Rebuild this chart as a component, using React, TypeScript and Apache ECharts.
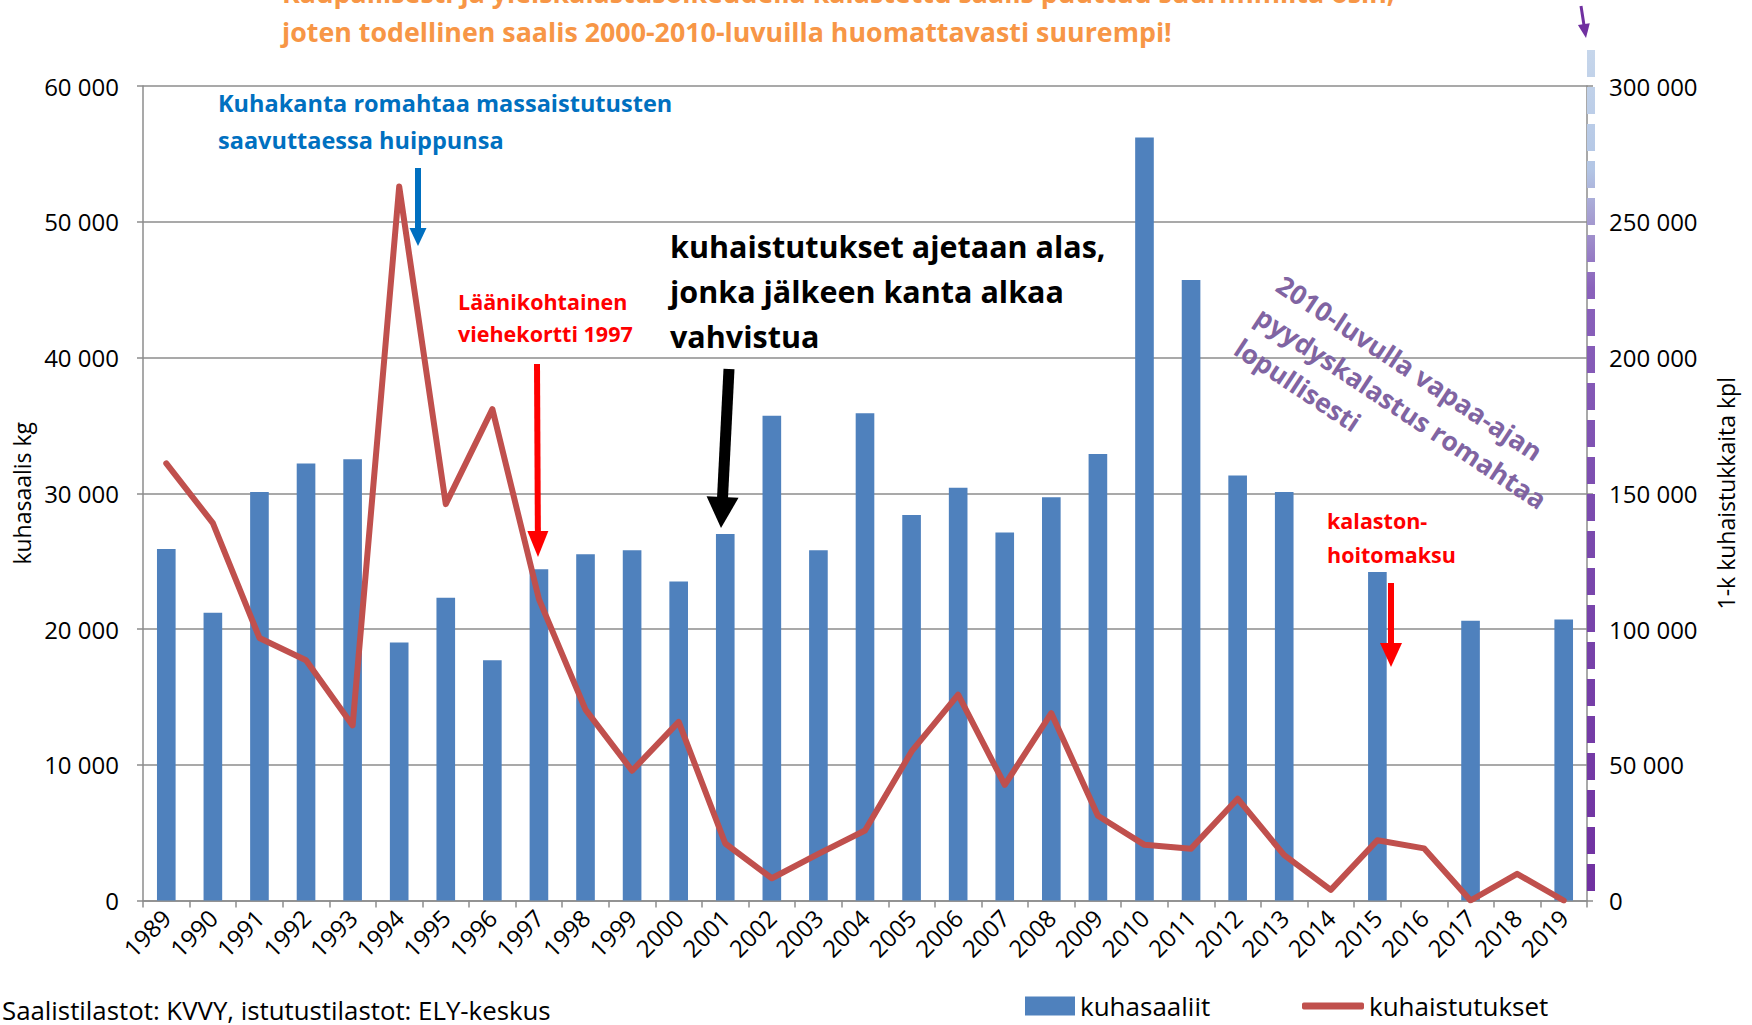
import React, { useEffect, useRef } from "react";
import * as echarts from "echarts";

const years = ["1989","1990","1991","1992","1993","1994","1995","1996","1997","1998","1999","2000","2001","2002","2003","2004","2005","2006","2007","2008","2009","2010","2011","2012","2013","2014","2015","2016","2017","2018","2019"];
const kuhasaaliit = [25900,21200,30100,32200,32500,19000,22300,17700,24400,25500,25800,23500,27000,35700,25800,35900,28400,30400,27100,29700,32900,56200,45700,31300,30100,null,24200,null,20600,null,20700];
const kuhaistutukset = [161000,139000,96700,88500,64500,263000,146000,181000,111000,70300,47800,65800,21000,8200,17200,25800,54900,75800,42600,69000,31200,20500,19100,37500,16700,3900,22200,19200,0,9800,0];

const leftTicks = { min: 0, max: 60000, interval: 10000 };
const rightTicks = { min: 0, max: 300000, interval: 50000 };

const FONT = "'Open Sans', 'Noto Sans', sans-serif";
const fmt = (v: number) => String(v).replace(/\B(?=(\d{3})+(?!\d))/g, " ");

function arrow(x1: number, y1: number, x2: number, y2: number, w: number, headW: number, headL: number, color: string) {
  const dx = x2 - x1, dy = y2 - y1;
  const len = Math.sqrt(dx * dx + dy * dy);
  const ux = dx / len, uy = dy / len;
  const bx = x2 - ux * headL, by = y2 - uy * headL;
  const px = -uy, py = ux;
  return [
    { type: "line", z: 100, shape: { x1, y1, x2: bx + ux * 2, y2: by + uy * 2 }, style: { stroke: color, lineWidth: w } },
    { type: "polygon", z: 100, shape: { points: [[bx + px * headW / 2, by + py * headW / 2], [bx - px * headW / 2, by - py * headW / 2], [x2, y2]] }, style: { fill: color } },
  ];
}

export default function App() {
  const ref = useRef<HTMLDivElement>(null);
  useEffect(() => {
    document.body.style.margin = "0";
    const chart = echarts.init(ref.current!, null, { renderer: "svg" });
    const gridColor = "#8c8c8c";
    const option: any = {
      animation: false,
      backgroundColor: "#fff",
      textStyle: { fontFamily: FONT },
      grid: { left: 143, right: 165, top: 86, bottom: 124.5, containLabel: false, outerBoundsMode: "none" },
      legend: [
        {
          data: [{ name: "kuhasaaliit", icon: "rect" }],
          left: 1020, top: 988, itemWidth: 50, itemHeight: 19,
          textStyle: { fontSize: 26, color: "#000", fontFamily: FONT },
        },
        {
          data: [{ name: "kuhaistutukset", icon: "roundRect", itemStyle: { color: "#c0504d", borderWidth: 0 } }],
          left: 1297, top: 988, itemWidth: 62, itemHeight: 7,
          textStyle: { fontSize: 26, color: "#000", fontFamily: FONT },
        },
      ],
      xAxis: {
        type: "category",
        data: years,
        boundaryGap: true,
        axisLine: { lineStyle: { color: gridColor, width: 1.5 } },
        axisTick: { show: true, length: 7, lineStyle: { color: gridColor, width: 1.5 } },
        axisLabel: { rotate: 45, interval: 0, fontSize: 24, color: "#000", margin: 13, fontFamily: FONT },
      },
      yAxis: [
        {
          type: "value", ...leftTicks,
          name: "kuhasaalis kg", nameLocation: "middle", nameGap: 110, nameRotate: 90,
          nameTextStyle: { fontSize: 23, color: "#000", fontFamily: FONT },
          axisLine: { show: true, lineStyle: { color: gridColor, width: 1.5 } },
          axisTick: { show: true, length: 6, lineStyle: { color: gridColor, width: 1.5 } },
          splitLine: { show: true, lineStyle: { color: gridColor, width: 1.5 } },
          axisLabel: { fontSize: 24, color: "#000", margin: 24, formatter: fmt, fontFamily: FONT },
        },
        {
          type: "value", ...rightTicks, position: "right",
          name: "1-k kuhaistukkaita kpl", nameLocation: "middle", nameGap: 127, nameRotate: 90,
          nameTextStyle: { fontSize: 23, color: "#000", fontFamily: FONT },
          axisLine: { show: true, lineStyle: { color: gridColor, width: 1.5 } },
          axisTick: { show: true, length: 6, lineStyle: { color: gridColor, width: 1.5 } },
          splitLine: { show: false },
          axisLabel: { fontSize: 24, color: "#000", margin: 22, formatter: fmt, fontFamily: FONT },
        },
      ],
      series: [
        {
          name: "kuhasaaliit", type: "bar", yAxisIndex: 0, data: kuhasaaliit,
          barWidth: "40%", itemStyle: { color: "#4f81bd" },
        },
        {
          name: "kuhaistutukset", type: "line", yAxisIndex: 1, data: kuhaistutukset,
          symbol: "none", showSymbol: false,
          lineStyle: { color: "#c0504d", width: 6, cap: "round", join: "round" },
          itemStyle: { color: "#c0504d" },
        },
      ],
      graphic: [
        {
          type: "line", z: 90,
          shape: { x1: 1591, y1: 50, x2: 1591, y2: 900 },
          style: {
            lineWidth: 8, lineDash: [27, 10],
            stroke: new echarts.graphic.LinearGradient(1591, 50, 1591, 900, [
              { offset: 0, color: "#c6d6eb" },
              { offset: 0.14, color: "#b3c6e5" },
              { offset: 0.2, color: "#a59cd0" },
              { offset: 0.28, color: "#8a62bb" },
              { offset: 0.55, color: "#7b4bae" },
              { offset: 1, color: "#7030a0" },
            ], true),
          },
        },
        ...arrow(1581, 6, 1586, 38, 3, 12, 14, "#7030a0"),
        {
          type: "text", z: 100, x: 282, y: -27.5,
          style: {
            text: "Kaupallisesti ja yleiskalastusoikeudella kalastettu saalis puuttuu suurimmilta osin,\njoten todellinen saalis 2000-2010-luvuilla huomattavasti suurempi!",
            fontSize: 26.8, fontWeight: "bold", fontFamily: FONT, fill: "#f79646", lineHeight: 39, align: "left", verticalAlign: "top",
          },
        },
        {
          type: "text", z: 100, x: 218, y: 84,
          style: {
            text: "Kuhakanta romahtaa massaistutusten\nsaavuttaessa huippunsa",
            fontSize: 23.5, fontWeight: "bold", fontFamily: FONT, fill: "#0070c0", lineHeight: 37, align: "left", verticalAlign: "top",
          },
        },
        ...arrow(418, 168, 418, 246, 6, 17, 18, "#0070c0"),
        {
          type: "text", z: 100, x: 458, y: 285,
          style: {
            text: "Läänikohtainen\nviehekortti 1997",
            fontSize: 21.5, fontWeight: "bold", fontFamily: FONT, fill: "#ff0000", lineHeight: 32, align: "left", verticalAlign: "top",
          },
        },
        ...arrow(537, 364, 538, 557, 6, 21, 26, "#ff0000"),
        {
          type: "text", z: 100, x: 670, y: 223.5,
          style: {
            text: "kuhaistutukset ajetaan alas,\njonka jälkeen kanta alkaa\nvahvistua",
            fontSize: 30.5, fontWeight: "bold", fontFamily: FONT, fill: "#000", lineHeight: 45, align: "left", verticalAlign: "top",
          },
        },
        ...arrow(729, 369, 721, 528, 11, 32, 31, "#000"),
        {
          type: "text", z: 100, x: 1290, y: 266, rotation: -0.585,
          style: {
            text: "2010-luvulla vapaa-ajan\npyydyskalastus romahtaa\nlopullisesti",
            fontSize: 26.5, fontWeight: "bold", fontFamily: FONT, fill: "#8064a2", lineHeight: 38, align: "left", verticalAlign: "top",
          },
        },
        {
          type: "text", z: 100, x: 1327, y: 504,
          style: {
            text: "kalaston-\nhoitomaksu",
            fontSize: 21.5, fontWeight: "bold", fontFamily: FONT, fill: "#ff0000", lineHeight: 33.5, align: "left", verticalAlign: "top",
          },
        },
        ...arrow(1391, 583, 1391, 667, 6, 22, 24, "#ff0000"),
        {
          type: "text", z: 100, x: 2, y: 1010,
          style: {
            text: "Saalistilastot: KVVY, istutustilastot: ELY-keskus",
            fontSize: 25.8, fontFamily: FONT, fill: "#000", align: "left", verticalAlign: "middle",
          },
        },
      ],
    };
    chart.setOption(option);
    return () => chart.dispose();
  }, []);
  return <div ref={ref} style={{ position: "absolute", left: 0, top: 0, width: 1752, height: 1025, background: "#fff" }} />;
}
